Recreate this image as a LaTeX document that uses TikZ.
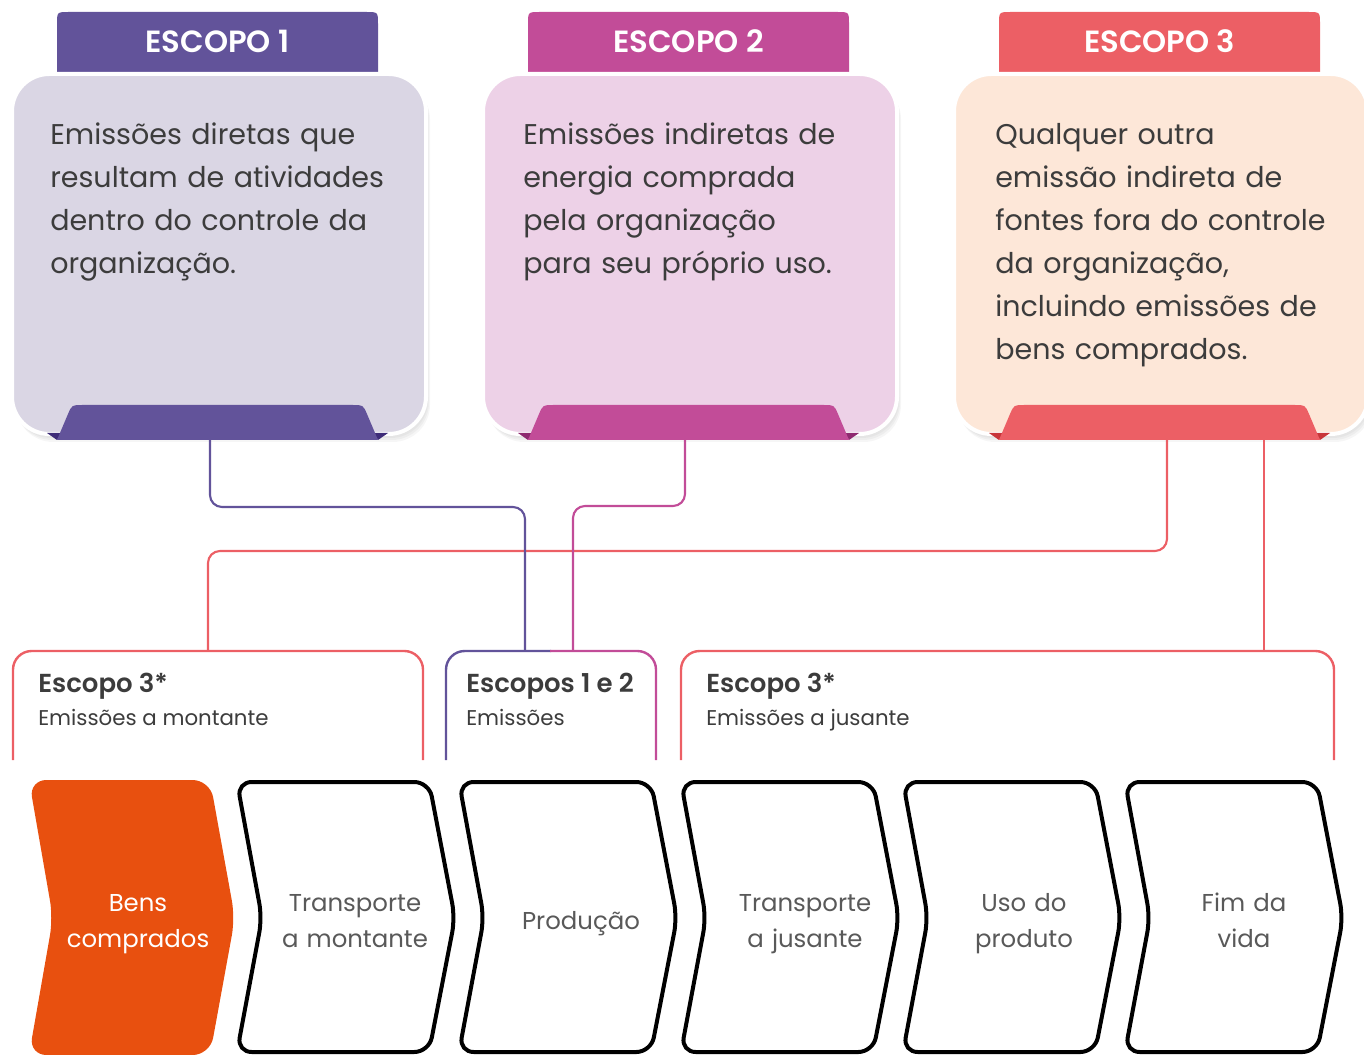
\documentclass[tikz,border=0pt]{standalone}
\usepackage{fontspec}
\setmainfont{Poppins}[BoldFont={Poppins SemiBold}]
\definecolor{pur}{HTML}{62539A}
\definecolor{purd}{HTML}{3E2C78}
\definecolor{mag}{HTML}{C24C98}
\definecolor{magd}{HTML}{8E2A70}
\definecolor{scred}{HTML}{EC5F65}
\definecolor{redd}{HTML}{C8353A}
\definecolor{fa}{HTML}{DAD6E4}
\definecolor{fb}{HTML}{EDD1E7}
\definecolor{fc}{HTML}{FDE7D8}
\definecolor{org}{HTML}{E8500F}
\definecolor{txt}{HTML}{3C3C3C}
\tikzset{
  tabtext/.style={font=\bfseries\fontsize{23}{26}\selectfont, text=white, inner sep=0pt},
  boxtext/.style={font=\fontsize{21.4}{32.25}\selectfont, text=txt, align=left, text width=330pt, inner sep=0pt},
  htitle/.style={font=\bfseries\fontsize{19.5}{22}\selectfont, text=txt, inner sep=0pt},
  hsub/.style={font=\fontsize{16}{20}\selectfont, text=txt, inner sep=0pt},
  chtext/.style={font=\fontsize{18.3}{27.5}\selectfont, text=txt!85!white, align=center, text width=150pt, inner sep=0pt, anchor=base},
  conn/.style={line width=1.6pt, rounded corners=9pt},
  brack/.style={line width=1.8pt, rounded corners=14pt},
  chevbox/.style={line width=3pt, rounded corners=11pt, draw=black, fill=white},
}
\begin{document}
\begin{tikzpicture}[x=0.75pt, y=-0.75pt]
\useasboundingbox (0,0) rectangle (1364,1055);
% ---------------- scope boxes ----------------
\foreach \o/\c/\f/\d/\n in {0/pur/fa/purd/1, 471/mag/fb/magd/2, 942/scred/fc/redd/3} {
  \begin{scope}[xshift=\o*0.75pt]
    % top tab
    \fill[\c] (57,72) -- (57,24) .. controls (57,12) .. (69,12) -- (366,12) .. controls (378,12) .. (378,24) -- (378,72) -- cycle;
    \node[tabtext] (tab\n) at (217.5,41) {ESCOPO \n};
    % soft shadow
    \foreach \s in {2,4,6,8}
      \fill[black, opacity=0.035, rounded corners=28pt] (12+\s*0.5,74+\s) rectangle (426+\s*0.5,434+\s);
    % box
    \draw[white, line width=3pt, fill=\f, rounded corners=28pt] (12,74) rectangle (426,434);
    % folded corners
    \fill[\d] (47,433) -- (61,433) -- (57,440) -- cycle;
    \fill[\d] (388,433) -- (374,433) -- (378,440) -- cycle;
    % bottom tab
    \fill[\c] (57,440) -- (68,414) .. controls (72,405) .. (82,405) -- (353,405) .. controls (363,405) .. (367,414) -- (378,440) -- cycle;
  \end{scope}
}
\node[boxtext, anchor=base west] (d1) at (50,145) {Emissões diretas que\\resultam de atividades\\dentro do controle da\\organização.};
\node[boxtext, anchor=base west] (d2) at (523,145) {Emissões indiretas de\\energia comprada\\pela organização\\para seu próprio uso.};
\node[boxtext, anchor=base west] (d3) at (995,145) {Qualquer outra\\emissão indireta de\\fontes fora do controle\\da organização,\\incluindo emissões de\\bens comprados.};
% ---------------- connector ends ----------------
\coordinate (s1) at (210,440);
\coordinate (s2) at (685,440);
\coordinate (s3a) at (1167,440);
\coordinate (s3b) at (1264,440);
\coordinate (e1) at (525,651);
\coordinate (e2) at (573,651);
\coordinate (e3a) at (208,651);
\coordinate (e3b) at (1264,651);
% connectors
\draw[conn, scred] (s3a) -- (s3a |- 0,551) -- (e3a |- 0,551) -- (e3a);
\draw[conn, pur] (s1) -- (s1 |- 0,507) -- (e1 |- 0,507) -- (e1);
\draw[conn, mag] (s2) -- (s2 |- 0,506) -- (e2 |- 0,506) -- (e2);
\draw[conn, scred] (s3b) -- (e3b);
% ---------------- brackets ----------------
\draw[brack, scred] (13,760) -- (13,651) -- (423,651) -- (423,760);
\draw[brack, pur] (446,760) -- (446,651) -- (551,651);
\draw[brack, mag] (550,651) -- (656,651) -- (656,760);
\draw[brack, scred] (681,760) -- (681,651) -- (1334,651) -- (1334,760);
\node[htitle, anchor=base west] (h1) at (38,692) {Escopo 3*};
\node[hsub, anchor=base west] (h1s) at (38,725) {Emissões a montante};
\node[htitle, anchor=base west] (h2) at (466,692) {Escopos 1 e 2};
\node[hsub, anchor=base west] (h2s) at (466,725) {Emissões};
\node[htitle, anchor=base west] (h3) at (706,692) {Escopo 3*};
\node[hsub, anchor=base west] (h3s) at (706,725) {Emissões a jusante};
% ---------------- chevrons ----------------
\fill[org, rounded corners=13pt] (29,780) -- (210,780) -- (235,918) -- (210,1055) -- (29,1055) -- (53,918) -- cycle;
\foreach \L in {237,459,681,903,1125}
  \draw[chevbox] (\L,782) -- (\L+192,782) -- (\L+218,918) -- (\L+192,1052) -- (\L,1052) -- (\L+25,918) -- cycle;
\node[chtext, text=white] (c1) at (138,911) {Bens\\comprados};
\node[chtext] (c2) at (355,911) {Transporte\\a montante};
\node[chtext] (c3) at (581,929) {Produção};
\node[chtext] (c4) at (805,911) {Transporte\\a jusante};
\node[chtext] (c5) at (1024,911) {Uso do\\produto};
\node[chtext] (c6) at (1244,911) {Fim da\\vida};
\end{tikzpicture}
\end{document}
